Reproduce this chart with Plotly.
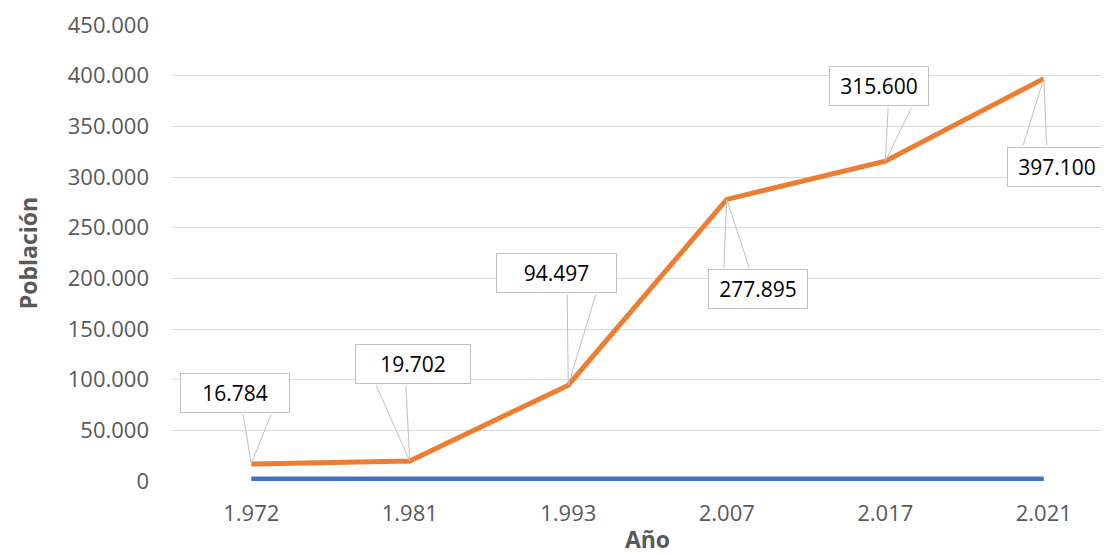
import plotly.graph_objects as go

years = ["1.972", "1.981", "1.993", "2.007", "2.017", "2.021"]
year_values = [1972, 1981, 1993, 2007, 2017, 2021]
population = [16784, 19702, 94497, 277895, 315600, 397100]
label_texts = ["16.784", "19.702", "94.497", "277.895", "315.600", "397.100"]
# callout offsets (pixels), box widths and pointer-base fractions
label_ax = [-16, 3, -12, 31, -6, 13]
label_ay = [-71, -97, -112, 90, -75, 88]
label_w = [96, 102, 107, 86, 86, 86]
wedge_f1 = [0.57, 0.18, 0.59, 0.16, 0.59, 0.16]
wedge_f2 = [0.83, 0.44, 0.83, 0.42, 0.83, 0.40]

GRAY = "#BFBFBF"
BOX_HALF_H = 20

fig = go.Figure()
fig.add_trace(go.Scatter(x=years, y=year_values, mode="lines",
                         line=dict(color="#4472C4", width=5), name="Año"))
fig.add_trace(go.Scatter(x=years, y=population, mode="lines",
                         line=dict(color="#ED7D31", width=5), name="Población"))

# callout pointers (wedges)
for i, (y, ax, ay, w, f1, f2) in enumerate(zip(population, label_ax, label_ay,
                                                label_w, wedge_f1, wedge_f2)):
    box_w = w + 14
    base_y = ay + BOX_HALF_H if ay < 0 else ay - BOX_HALF_H
    for f in (f1, f2):
        base_x = ax - box_w / 2 + f * box_w
        fig.add_annotation(x=i, y=y, text="", showarrow=True, ax=base_x, ay=base_y,
                           arrowhead=0, arrowwidth=1, arrowcolor=GRAY,
                           standoff=0, startstandoff=0)

# callout boxes
for i, (y, t, ax, ay, w) in enumerate(zip(population, label_texts, label_ax, label_ay, label_w)):
    fig.add_annotation(x=i, y=y, text=t, showarrow=True, ax=ax, ay=ay,
                       arrowhead=0, arrowwidth=1, arrowcolor="rgba(0,0,0,0)",
                       bordercolor=GRAY, borderwidth=1, borderpad=6,
                       bgcolor="white", width=w, height=26,
                       font=dict(family="Open Sans", size=21, color="#000000"))

fig.update_layout(
    width=1115, height=547,
    margin=dict(l=164, r=0, t=17, b=74),
    paper_bgcolor="white", plot_bgcolor="white",
    showlegend=False,
    separators=",.",
    font=dict(family="Open Sans", color="#595959"),
    xaxis=dict(type="category", range=[-0.5, 5.5], showgrid=False,
               showline=False, zeroline=False, automargin=False,
               tickfont=dict(size=22, color="#595959"),
               ticklabelstandoff=17,
               title=dict(text="<b>Año</b>", font=dict(size=23, color="#595959"),
                          standoff=16)),
    yaxis=dict(range=[0, 450000], dtick=50000, tickformat=",d",
               showgrid=True, gridcolor="#D9D9D9", gridwidth=1,
               zeroline=False, showline=False, automargin=False,
               tickfont=dict(size=22, color="#595959"),
               ticklabelstandoff=22,
               title=dict(text="<b>Población</b>", font=dict(size=23, color="#595959"),
                          standoff=23)),
)

fig.write_html("out.html")
